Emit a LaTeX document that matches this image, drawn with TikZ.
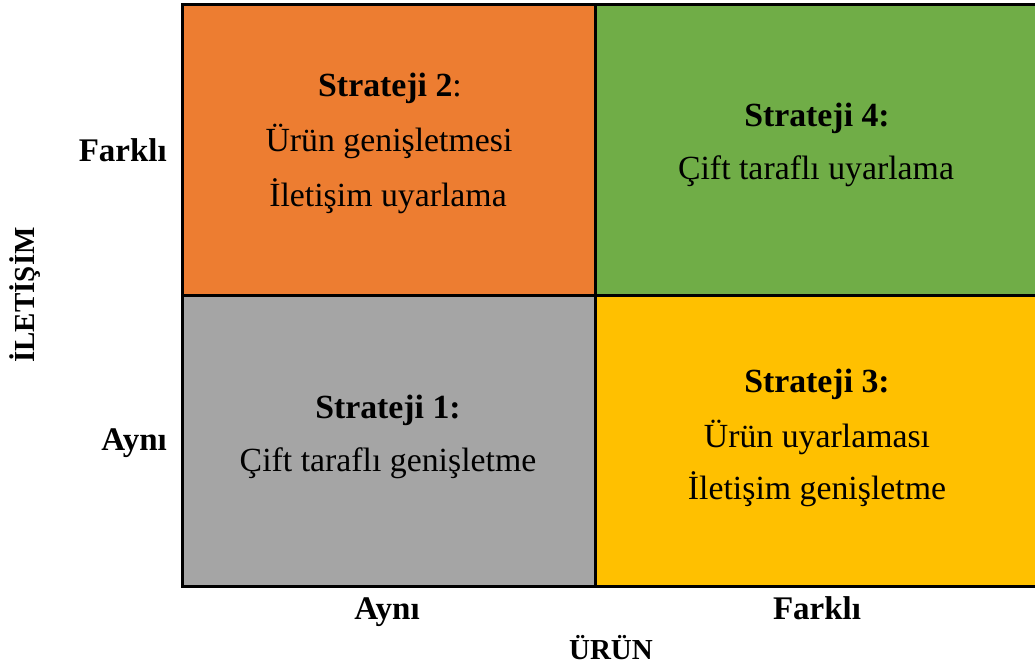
\documentclass[tikz,border=0pt]{standalone}
\usepackage{fontspec}
\setmainfont{Liberation Serif}
\definecolor{cOrange}{HTML}{ED7D31}
\definecolor{cGreen}{HTML}{70AD47}
\definecolor{cGray}{HTML}{A5A5A5}
\definecolor{cYellow}{HTML}{FFC000}
\tikzset{
  cell/.style={draw=black, line width=3pt, anchor=north west, inner sep=0pt, outer sep=0pt},
  txt/.style={anchor=base, inner sep=0pt, font=\fontsize{33.8}{38}\selectfont},
  lab/.style={anchor=base, inner sep=0pt, font=\fontsize{33}{38}\selectfont\bfseries},
  caplab/.style={anchor=base, inner sep=0pt, font=\fontsize{29}{33}\selectfont\bfseries},
}
\begin{document}
\begin{tikzpicture}[x=1pt,y=-1pt]
\useasboundingbox (0,0) rectangle (1035,668);
% cells
\node[cell, fill=cOrange, minimum width=413pt, minimum height=290pt] (c2) at (182,5) {};
\node[cell, fill=cGreen, minimum width=442pt, minimum height=290pt] (c4) at (595,5) {};
\node[cell, fill=cGray, minimum width=413pt, minimum height=291pt] (c1) at (182,295) {};
\node[cell, fill=cYellow, minimum width=442pt, minimum height=291pt] (c3) at (595,295) {};
% strategy 2
\node[txt] (s2a) at (390,97) {\textbf{Strateji 2}:};
\node[txt] (s2b) at (389,152) {Ürün genişletmesi};
\node[txt] (s2c) at (388,207) {İletişim uyarlama};
% strategy 4
\node[txt] (s4a) at (817,127) {\textbf{Strateji 4:}};
\node[txt] (s4b) at (816,180) {Çift taraflı uyarlama};
% strategy 1
\node[txt] (s1a) at (388,418) {\textbf{Strateji 1:}};
\node[txt] (s1b) at (388,471) {Çift taraflı genişletme};
% strategy 3
\node[txt] (s3a) at (817,392) {\textbf{Strateji 3:}};
\node[txt] (s3b) at (817,447) {Ürün uyarlaması};
\node[txt] (s3c) at (817,499) {İletişim genişletme};
% axis labels
\node[lab, anchor=base east] (yf) at (167,162) {Farklı};
\node[lab, anchor=base east] (ya) at (167,450) {Aynı};
\node[lab] (xa) at (387,619) {Aynı};
\node[lab] (xf) at (817,619) {Farklı};
\node[caplab] (xl) at (611,659) {ÜRÜN};
\node[caplab, rotate=90] (yl) at (34,295) {İLETİŞİM};
\end{tikzpicture}
\end{document}
